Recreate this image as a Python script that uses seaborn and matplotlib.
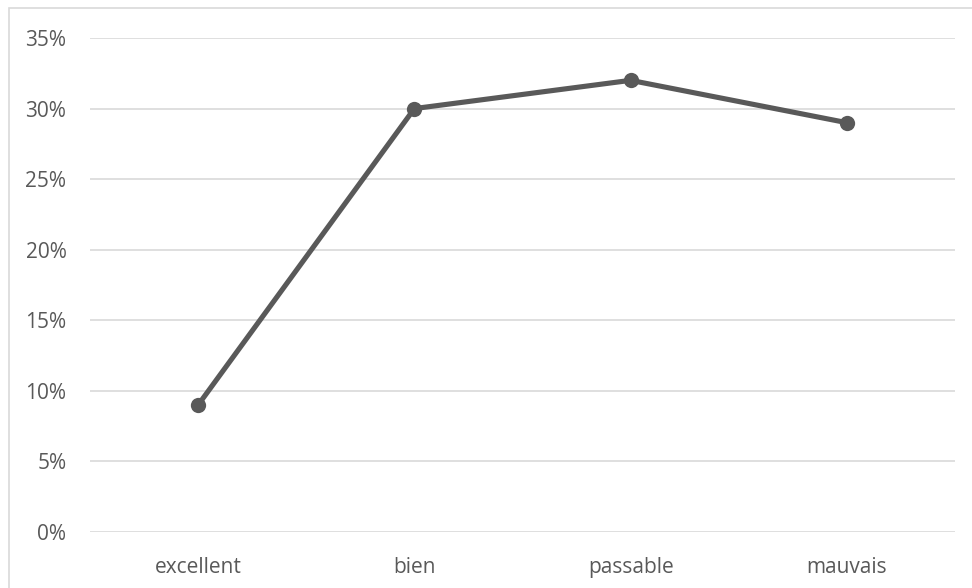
#!/usr/bin/env python3

# Line chart of the share of answers per rating

import matplotlib
matplotlib.use("Agg")
import matplotlib.pyplot as plt
import matplotlib.patches as patches
import seaborn as sns
import pandas as pd

categories = ["excellent", "bien", "passable", "mauvais"]
shares = [9, 30, 32, 29]
yticks = [0, 5, 10, 15, 20, 25, 30, 35]

sns.set_theme(style="white")
plt.rcParams["font.family"] = ["Open Sans", "DejaVu Sans"]

df = pd.DataFrame({"Note": categories, "Part": shares})

W, H = 972, 588
fig = plt.figure(figsize=(W / 100, H / 100), dpi=100)
ax = fig.add_axes([90 / W, (H - 532) / H, (955 - 90) / W, (532 - 38) / H])

sns.lineplot(data=df, x="Note", y="Part", ax=ax, color="#595959", linewidth=3.7,
             marker="o", markersize=11, markeredgewidth=0, sort=False)

ax.set_xlim(-0.5, len(categories) - 0.5)
ax.set_ylim(0, 35)
ax.set_yticks(yticks)
ax.set_yticklabels([f"{t}%" for t in yticks])
ax.grid(axis="y", color="#d9d9d9", linewidth=1.2)
ax.set_axisbelow(True)
for s in ax.spines.values():
    s.set_visible(False)
ax.tick_params(axis="both", length=0, labelsize=15, labelcolor="#595959")
ax.tick_params(axis="y", pad=17)
ax.tick_params(axis="x", pad=18)
ax.set_xlabel("")
ax.set_ylabel("")

# chart frame
fig.patches.append(patches.Rectangle((8.5 / W, -0.1), 1.2, (H - 8.5) / H + 0.1,
                                     transform=fig.transFigure, fill=False,
                                     edgecolor="#d9d9d9", linewidth=1.2))

fig.savefig("out.png", dpi=100)
